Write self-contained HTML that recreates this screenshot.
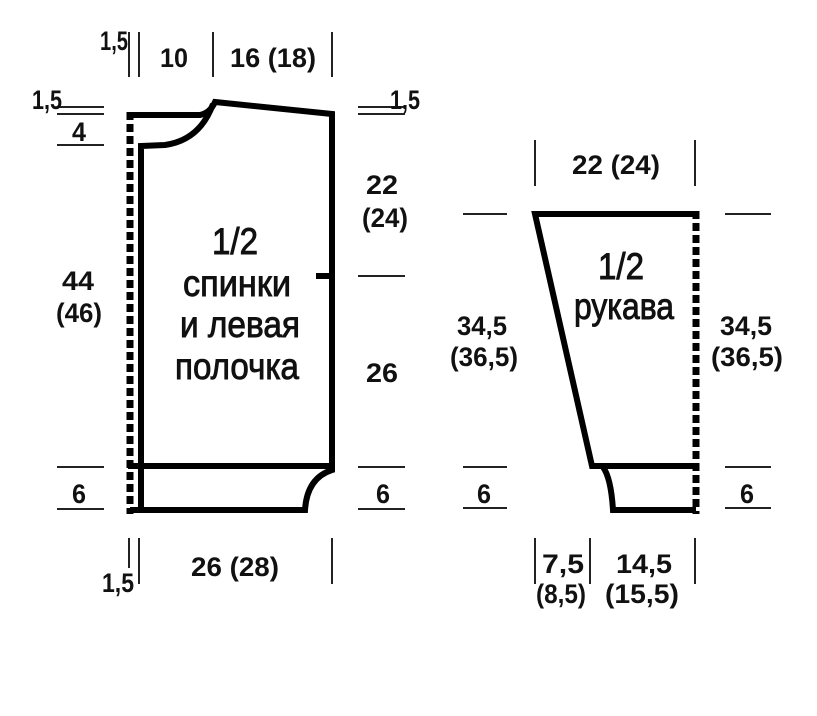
<!DOCTYPE html>
<html><head><meta charset="utf-8"><style>
html,body{margin:0;padding:0;background:#fff;}
svg{display:block;}
text{font-family:"Liberation Sans",sans-serif;fill:#111;}
.n{font-size:27px;font-weight:bold;}
.b{font-size:37px;stroke:#111;stroke-width:0.9;}
</style></head><body>
<svg width="817" height="716" viewBox="0 0 817 716" xmlns="http://www.w3.org/2000/svg">
<g stroke="#000" fill="none" stroke-linejoin="miter">
 <line x1="130" y1="112" x2="130" y2="514" stroke-width="7" stroke-dasharray="8,4"/>
 <path d="M128 115 L200 115 Q210 113 215 102 L332 114 L332 470 Q307 478 305 510 L130 510" stroke-width="6"/>
 <path d="M141 510 L141 146 L165 145 Q200 140 213 104" stroke-width="6"/>
 <line x1="128" y1="466" x2="332" y2="466" stroke-width="6"/>
 <line x1="316" y1="276" x2="332" y2="276" stroke-width="6"/>
 <line x1="696" y1="211" x2="696" y2="514" stroke-width="7" stroke-dasharray="8,4"/>
 <path d="M696 214 L535 214 L592 466 L696 466" stroke-width="6"/>
 <path d="M603 467 Q611 478 613 510 L696 510" stroke-width="6"/>
</g>
<g stroke="#222" stroke-width="2">
 <line x1="129" y1="32" x2="129" y2="77"/><line x1="139" y1="32" x2="139" y2="77"/>
 <line x1="213" y1="32" x2="213" y2="77"/><line x1="332" y1="32" x2="332" y2="77"/>
 <line x1="57" y1="107" x2="104" y2="107"/><line x1="57" y1="114" x2="104" y2="114"/>
 <line x1="57" y1="145" x2="104" y2="145"/>
 <line x1="57" y1="467" x2="104" y2="467"/><line x1="57" y1="509" x2="104" y2="509"/>
 <line x1="358" y1="107" x2="405" y2="107"/><line x1="358" y1="114" x2="405" y2="114"/>
 <line x1="358" y1="276" x2="405" y2="276"/>
 <line x1="358" y1="467" x2="405" y2="467"/><line x1="358" y1="509" x2="405" y2="509"/>
 <line x1="129" y1="538" x2="129" y2="568"/><line x1="139" y1="538" x2="139" y2="584"/>
 <line x1="332" y1="538" x2="332" y2="584"/>
 <line x1="535" y1="140" x2="535" y2="186"/><line x1="695" y1="140" x2="695" y2="186"/>
 <line x1="463" y1="214" x2="507" y2="214"/><line x1="725" y1="214" x2="771" y2="214"/>
 <line x1="463" y1="467" x2="507" y2="467"/><line x1="725" y1="467" x2="771" y2="467"/>
 <line x1="463" y1="508" x2="507" y2="508"/><line x1="725" y1="508" x2="771" y2="508"/>
 <line x1="535" y1="538" x2="535" y2="584"/><line x1="590" y1="538" x2="590" y2="584"/>
 <line x1="695" y1="538" x2="695" y2="584"/>
</g>
<g class="n">
 <text x="100" y="50" textLength="28" lengthAdjust="spacingAndGlyphs">1,5</text>
 <text x="160" y="67" textLength="28" lengthAdjust="spacingAndGlyphs">10</text>
 <text x="230" y="67" textLength="86" lengthAdjust="spacingAndGlyphs">16 (18)</text>
 <text x="32" y="109" textLength="30" lengthAdjust="spacingAndGlyphs">1,5</text>
 <text x="72" y="141" textLength="14" lengthAdjust="spacingAndGlyphs">4</text>
 <text x="390" y="109" textLength="30" lengthAdjust="spacingAndGlyphs">1,5</text>
 <text x="366" y="194" textLength="32" lengthAdjust="spacingAndGlyphs">22</text>
 <text x="362" y="227" textLength="46" lengthAdjust="spacingAndGlyphs">(24)</text>
 <text x="366" y="382" textLength="32" lengthAdjust="spacingAndGlyphs">26</text>
 <text x="62" y="290" textLength="32" lengthAdjust="spacingAndGlyphs">44</text>
 <text x="56" y="322" textLength="46" lengthAdjust="spacingAndGlyphs">(46)</text>
 <text x="72" y="503" textLength="14" lengthAdjust="spacingAndGlyphs">6</text>
 <text x="376" y="503" textLength="14" lengthAdjust="spacingAndGlyphs">6</text>
 <text x="102" y="592" textLength="32" lengthAdjust="spacingAndGlyphs">1,5</text>
 <text x="191" y="576" textLength="88" lengthAdjust="spacingAndGlyphs">26 (28)</text>
 <text x="572" y="174" textLength="88" lengthAdjust="spacingAndGlyphs">22 (24)</text>
 <text x="457" y="335" textLength="50" lengthAdjust="spacingAndGlyphs">34,5</text>
 <text x="450" y="366" textLength="68" lengthAdjust="spacingAndGlyphs">(36,5)</text>
 <text x="720" y="335" textLength="52" lengthAdjust="spacingAndGlyphs">34,5</text>
 <text x="711" y="366" textLength="72" lengthAdjust="spacingAndGlyphs">(36,5)</text>
 <text x="477" y="503" textLength="14" lengthAdjust="spacingAndGlyphs">6</text>
 <text x="740" y="503" textLength="14" lengthAdjust="spacingAndGlyphs">6</text>
 <text x="542" y="573" textLength="42" lengthAdjust="spacingAndGlyphs">7,5</text>
 <text x="536" y="603" textLength="50" lengthAdjust="spacingAndGlyphs">(8,5)</text>
 <text x="616" y="573" textLength="56" lengthAdjust="spacingAndGlyphs">14,5</text>
 <text x="605" y="603" textLength="74" lengthAdjust="spacingAndGlyphs">(15,5)</text>
</g>
<g class="b">
 <text x="212" y="254" textLength="46" lengthAdjust="spacingAndGlyphs">1/2</text>
 <text x="183" y="296" textLength="108" lengthAdjust="spacingAndGlyphs">спинки</text>
 <text x="180" y="337" textLength="120" lengthAdjust="spacingAndGlyphs">и левая</text>
 <text x="175" y="379" textLength="124" lengthAdjust="spacingAndGlyphs">полочка</text>
 <text x="598" y="279" textLength="46" lengthAdjust="spacingAndGlyphs">1/2</text>
 <text x="574" y="319" textLength="100" lengthAdjust="spacingAndGlyphs">рукава</text>
</g>
</svg>
</body></html>
